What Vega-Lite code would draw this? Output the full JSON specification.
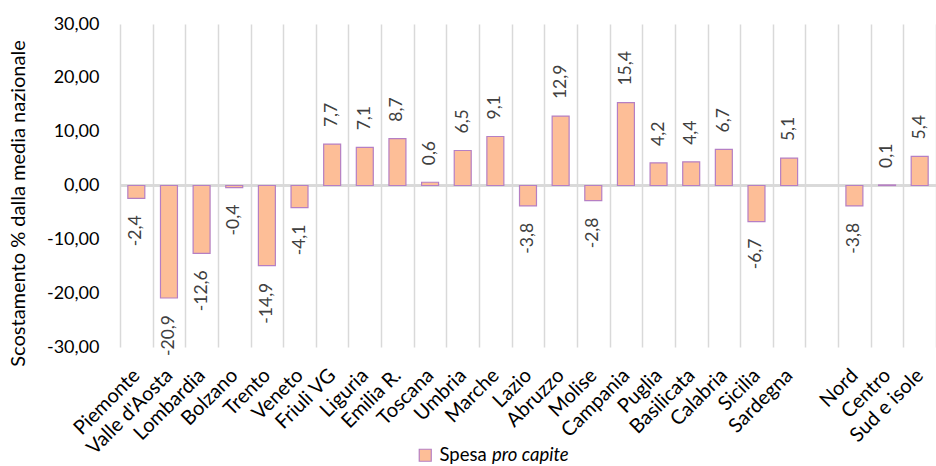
{
  "$schema": "https://vega.github.io/schema/vega-lite/v6.json",
  "width": 816,
  "height": 323,
  "autosize": {"type": "none"},
  "padding": {"left": 120, "top": 24, "right": 0, "bottom": 119},
  "background": "#ffffff",
  "data": {
    "values": [
      {"regione": "Piemonte", "v": -2.4},
      {"regione": "Valle d'Aosta", "v": -20.9},
      {"regione": "Lombardia", "v": -12.6},
      {"regione": "Bolzano", "v": -0.4},
      {"regione": "Trento", "v": -14.9},
      {"regione": "Veneto", "v": -4.1},
      {"regione": "Friuli VG", "v": 7.7},
      {"regione": "Liguria", "v": 7.1},
      {"regione": "Emilia R.", "v": 8.7},
      {"regione": "Toscana", "v": 0.6},
      {"regione": "Umbria", "v": 6.5},
      {"regione": "Marche", "v": 9.1},
      {"regione": "Lazio", "v": -3.8},
      {"regione": "Abruzzo", "v": 12.9},
      {"regione": "Molise", "v": -2.8},
      {"regione": "Campania", "v": 15.4},
      {"regione": "Puglia", "v": 4.2},
      {"regione": "Basilicata", "v": 4.4},
      {"regione": "Calabria", "v": 6.7},
      {"regione": "Sicilia", "v": -6.7},
      {"regione": "Sardegna", "v": 5.1},
      {"regione": " ", "v": null},
      {"regione": "Nord", "v": -3.8},
      {"regione": "Centro", "v": 0.1},
      {"regione": "Sud e isole", "v": 5.4}
    ]
  },
  "encoding": {
    "x": {
      "field": "regione",
      "type": "nominal",
      "sort": null,
      "title": null,
      "scale": {
        "domain": ["Piemonte", "Valle d'Aosta", "Lombardia", "Bolzano", "Trento", "Veneto", "Friuli VG", "Liguria", "Emilia R.", "Toscana", "Umbria", "Marche", "Lazio", "Abruzzo", "Molise", "Campania", "Puglia", "Basilicata", "Calabria", "Sicilia", "Sardegna", " ", "Nord", "Centro", "Sud e isole"],
        "paddingInner": 0,
        "paddingOuter": 0
      },
      "axis": {
        "labelAngle": -45,
        "labelAlign": "right",
        "labelBaseline": "middle",
        "labelPadding": 25,
        "labelFontSize": 20,
        "labelColor": "#000000",
        "labelOverlap": false,
        "grid": true,
        "gridColor": "#D9D9D9",
        "gridWidth": 1.5,
        "tickBand": "extent",
        "ticks": false,
        "domain": false
      }
    },
    "y": {
      "field": "v",
      "type": "quantitative",
      "title": "Scostamento % dalla media nazionale",
      "scale": {"domain": [-30, 30], "nice": false, "zero": false},
      "axis": {
        "values": [-30, -20, -10, 0, 10, 20, 30],
        "format": ".2f",
        "grid": false,
        "ticks": false,
        "domain": false,
        "labelFontSize": 18,
        "labelColor": "#000000",
        "labelPadding": 21,
        "titleFontSize": 20,
        "titleFontWeight": "normal",
        "titleColor": "#000000",
        "titlePadding": 18,
        "titleY": 179
      }
    }
  },
  "layer": [
    {
      "mark": {"type": "rule", "color": "#D9D9D9", "strokeWidth": 2},
      "encoding": {"y": {"datum": 0}, "x": null}
    },
    {
      "mark": {"type": "bar", "width": {"band": 0.52}, "stroke": "#B57FC4", "strokeWidth": 1.2},
      "encoding": {
        "color": {
          "datum": "Spesa",
          "scale": {"range": ["#FDBE97"]},
          "legend": {
            "orient": "none",
            "legendX": 296,
            "legendY": 422,
            "direction": "horizontal",
            "title": "pro capite",
            "titleOrient": "right",
            "titleFontStyle": "italic",
            "titleFontWeight": "normal",
            "titleFontSize": 18.5,
            "titleColor": "#000000",
            "titlePadding": 5,
            "titleBaseline": "middle",
            "labelFontSize": 18.5,
            "labelColor": "#000000",
            "labelOffset": 5,
            "symbolType": "square",
            "symbolSize": 144,
            "symbolStrokeColor": "#B57FC4",
            "symbolStrokeWidth": 1.2,
            "padding": 0
          }
        }
      }
    },
    {
      "transform": [{"filter": "isValid(datum.v) && datum.v >= 0"}],
      "mark": {"type": "text", "angle": 270, "align": "left", "baseline": "middle", "dx": 17, "fontSize": 17.5, "color": "#404040"},
      "encoding": {"text": {"field": "v", "type": "quantitative", "format": ".1f"}}
    },
    {
      "transform": [{"filter": "isValid(datum.v) && datum.v < 0"}],
      "mark": {"type": "text", "angle": 270, "align": "right", "baseline": "middle", "dx": -17, "fontSize": 17.5, "color": "#404040"},
      "encoding": {"text": {"field": "v", "type": "quantitative", "format": ".1f"}}
    }
  ],
  "config": {
    "font": "Lato",
    "view": {"stroke": null},
    "locale": {
      "number": {"decimal": ",", "thousands": ".", "grouping": [3], "currency": ["€", ""], "minus": "-"}
    }
  }
}
